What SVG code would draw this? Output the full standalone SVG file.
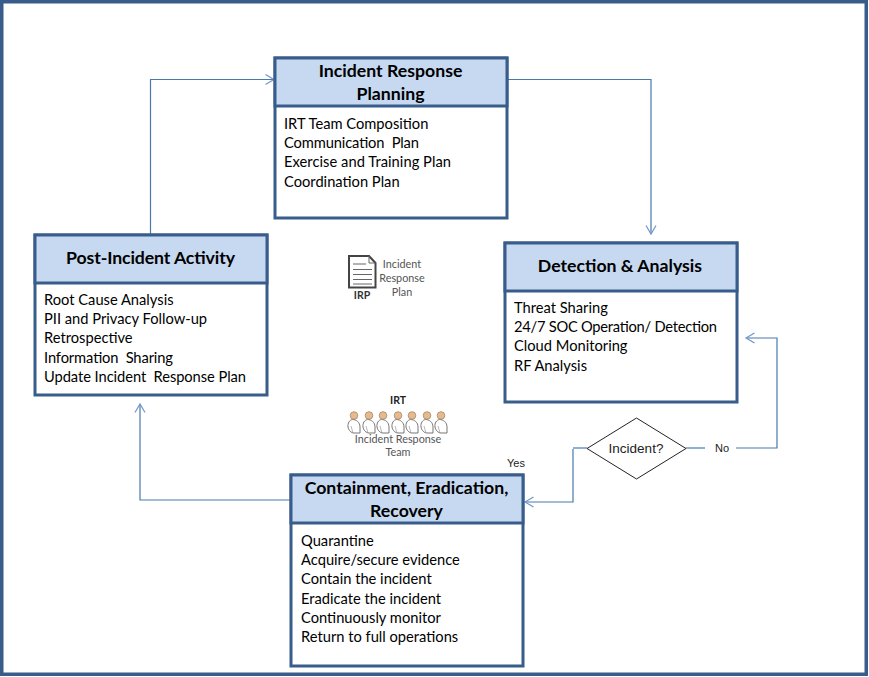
<svg xmlns="http://www.w3.org/2000/svg" width="869" height="677" viewBox="0 0 869 677">
<style>
.box{fill:#fff;stroke:#385d8a;stroke-width:3}
.hd{fill:#c6d9f1;stroke:#385d8a;stroke-width:3}
.t{font-family:Lato,"Liberation Sans",sans-serif;font-size:14.7px;fill:#000;white-space:pre}
.h{font-family:Lato,"Liberation Sans",sans-serif;font-size:17.7px;font-weight:700;fill:#000;text-anchor:middle}
.s{font-family:Lato,"Liberation Sans",sans-serif;font-size:10.8px;fill:#555;text-anchor:middle}
.c{fill:none;stroke:#4a78ad;stroke-width:1.2}
.stub{fill:none;stroke:#8fb0d6;stroke-width:2}
.l{font-family:"Liberation Sans",sans-serif;fill:#222;text-anchor:middle}
.p1{fill:#e9b98c;stroke:#a08a6c;stroke-width:.8}
.p2{fill:#fff;stroke:#777;stroke-width:1}
</style>
<defs>
<marker id="a" markerUnits="userSpaceOnUse" markerWidth="12" markerHeight="12" refX="10" refY="6" orient="auto"><path d="M1.5 1L10 6L1.5 11" fill="none" stroke="#6f97c8" stroke-width="1.2"/></marker>
<g id="person"><circle cx="0" cy="4.5" r="3.8" class="p1"/><path d="M-6 16C-6.5 12-4.5 9-1.5 8.500C2 8.500 6 11 6 16V22H0C-3 22-5.500 19-6 16Z" class="p2"/><path d="M-3 15L-1 22" fill="none" stroke="#999" stroke-width=".7"/></g>
</defs>
<rect x="1.750" y="1.750" width="864.500" height="672.500" fill="#fff" stroke="#385d8a" stroke-width="3.500"/>
<g id="connectors">
<path class="c" d="M150.500 234V79.500H274" marker-end="url(#a)"/>
<path class="c" d="M507 79.500H651V234" marker-end="url(#a)"/>
<path class="stub" d="M587 448H573"/>
<path class="c" d="M573 449V502H525" marker-end="url(#a)"/>
<path class="stub" d="M686 448H705"/>
<path class="c" d="M736 448H777V338H746" marker-end="url(#a)"/>
<path class="c" d="M290 500H140V404" marker-end="url(#a)"/>
</g>
<g id="planning">
<rect class="box" x="275" y="58" width="232" height="160"/><rect class="hd" x="275" y="58" width="232" height="48"/>
<text class="h" x="390.500" y="77">Incident Response</text><text class="h" x="390.500" y="100">Planning</text>
<text class="t" x="284" y="129">IRT Team Composition</text><text class="t" x="284" y="148" textLength="135">Communication  Plan</text><text class="t" x="284" y="167" textLength="167">Exercise and Training Plan</text><text class="t" x="284" y="187">Coordination Plan</text>
</g>
<g id="detection">
<rect class="box" x="505" y="243" width="232" height="159"/><rect class="hd" x="505" y="243" width="232" height="48"/>
<text class="h" x="620" y="272">Detection &amp; Analysis</text>
<text class="t" x="514" y="313">Threat Sharing</text><text class="t" x="514" y="332" textLength="203">24/7 SOC Operation/ Detection</text><text class="t" x="514" y="351">Cloud Monitoring</text><text class="t" x="514" y="371">RF Analysis</text>
</g>
<g id="post-incident">
<rect class="box" x="35" y="235" width="232" height="160"/><rect class="hd" x="35" y="235" width="232" height="48"/>
<text class="h" x="150.500" y="264" textLength="169">Post-Incident Activity</text>
<text class="t" x="44" y="305">Root Cause Analysis</text><text class="t" x="44" y="324">PII and Privacy Follow-up</text><text class="t" x="44" y="343">Retrospective</text><text class="t" x="44" y="363" textLength="129">Information  Sharing</text><text class="t" x="44" y="382" textLength="202">Update Incident  Response Plan</text>
</g>
<g id="containment">
<rect class="box" x="291" y="475" width="232" height="191"/><rect class="hd" x="291" y="475" width="232" height="48"/>
<text class="h" x="406.500" y="494">Containment, Eradication,</text><text class="h" x="406.500" y="517">Recovery</text>
<text class="t" x="301" y="546">Quarantine</text><text class="t" x="301" y="565">Acquire/secure evidence</text><text class="t" x="301" y="584">Contain the incident</text><text class="t" x="301" y="604">Eradicate the incident</text><text class="t" x="301" y="623">Continuously monitor</text><text class="t" x="301" y="642">Return to full operations</text>
</g>
<g id="decision">
<path d="M636.500 418L686 448.500L636.500 479L587 448.500Z" fill="#fff" stroke="#222" stroke-width="1"/>
<text class="l" x="636" y="453" font-size="13.500">Incident?</text>
<text class="l" x="722" y="452" font-size="11">No</text>
<text class="l" x="516" y="467" font-size="11">Yes</text>
</g>
<g id="irp">
<path d="M349 256H369L375.500 263V287.500H349Z" fill="#fff" stroke="#444" stroke-width="2"/>
<path d="M369 256V263H375.500M353 264H366M353 269.500H372M353 274.500H372M353 279.500H372M353 284H372" fill="none" stroke="#666" stroke-width="1"/>
<text x="362" y="299" font-family="Lato,'Liberation Sans',sans-serif" font-size="10.500" font-weight="700" fill="#333" text-anchor="middle">IRP</text>
<text class="s" x="402" y="268">Incident</text><text class="s" x="402" y="282">Response</text><text class="s" x="402" y="296">Plan</text>
</g>
<g id="irt">
<text x="398" y="404" font-family="Lato,'Liberation Sans',sans-serif" font-size="10.500" font-weight="700" fill="#222" text-anchor="middle">IRT</text>
<use href="#person" x="354" y="411"/><use href="#person" x="369" y="411"/><use href="#person" x="383" y="411"/><use href="#person" x="398" y="411"/><use href="#person" x="412" y="411"/><use href="#person" x="427" y="411"/><use href="#person" x="441" y="411"/>
<text class="s" x="398" y="443">Incident Response</text><text class="s" x="398" y="456">Team</text>
</g>
</svg>
